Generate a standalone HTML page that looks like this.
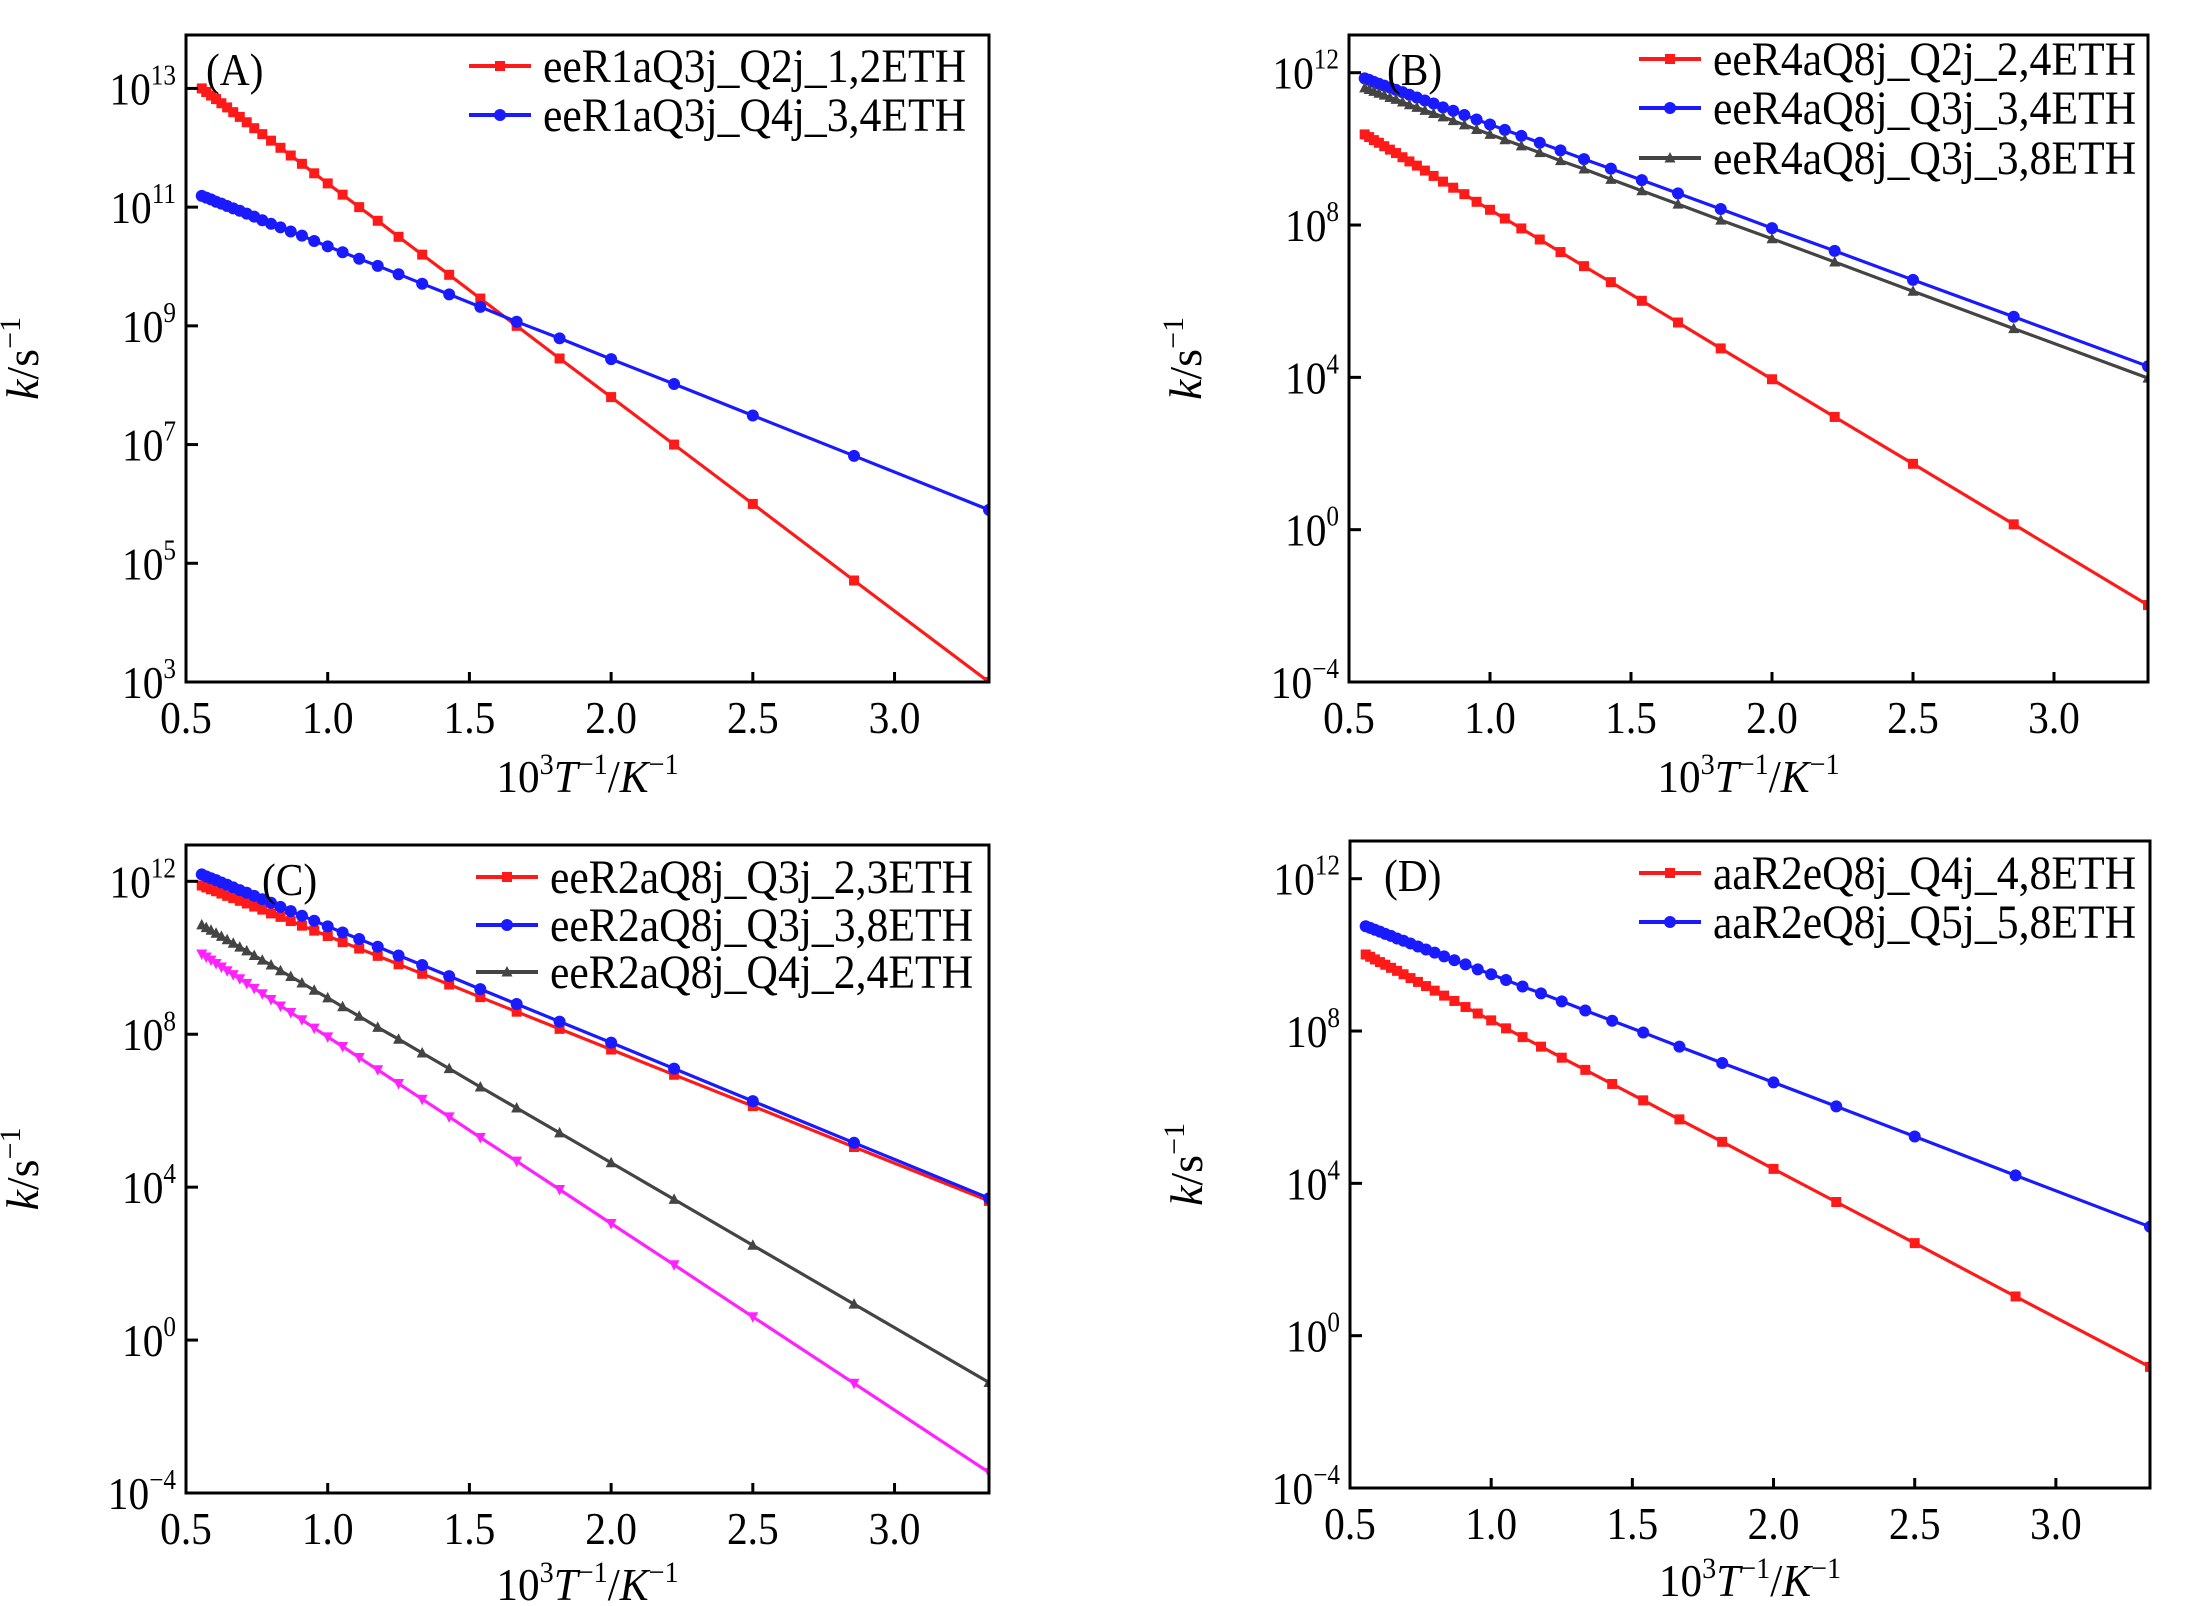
<!DOCTYPE html>
<html><head><meta charset="utf-8"><style>
html,body{margin:0;padding:0;background:#fff;}
svg{display:block;font-family:"Liberation Serif",serif;}
</style></head><body>
<svg id="chart" width="2190" height="1606" viewBox="0 0 2190 1606" xmlns="http://www.w3.org/2000/svg"></svg>
<script>
// Temperatures (K) at which rate constants were sampled
const temps = [1800,1750,1700,1650,1600,1550,1500,1450,1400,1350,1300,1250,1200,1150,1100,1050,1000,950,900,850,800,750,700,650,600,550,500,450,400,350,300];
const xTicks = [0.5,1.0,1.5,2.0,2.5,3.0];
const xTickLabels = ["0.5","1.0","1.5","2.0","2.5","3.0"];
const yTicksA = [3,5,7,9,11,13];
const yTicksBCD = [-4,0,4,8,12];
// log10(k / s^-1) per series
const aRed = [13.00,12.94,12.88,12.82,12.75,12.68,12.60,12.52,12.43,12.33,12.23,12.12,12.00,11.87,11.73,11.57,11.40,11.21,11.00,10.77,10.50,10.20,9.86,9.46,9.00,8.45,7.80,7.00,6.00,4.71,3.00];
const aBlue = [11.19,11.16,11.13,11.09,11.06,11.02,10.98,10.94,10.89,10.84,10.78,10.72,10.66,10.59,10.52,10.43,10.34,10.24,10.13,10.01,9.87,9.71,9.53,9.32,9.07,8.79,8.44,8.02,7.49,6.81,5.90];
const bRed = [10.38,10.31,10.23,10.16,10.07,9.98,9.89,9.78,9.67,9.56,9.43,9.29,9.14,8.98,8.81,8.61,8.40,8.17,7.91,7.62,7.29,6.92,6.50,6.01,5.44,4.76,3.95,2.96,1.73,0.14,-1.98];
const bBlue = [11.85,11.81,11.76,11.71,11.66,11.61,11.55,11.49,11.42,11.35,11.27,11.19,11.09,11.00,10.89,10.77,10.64,10.50,10.34,10.16,9.96,9.73,9.48,9.18,8.83,8.42,7.92,7.32,6.56,5.59,4.29];
const bGray = [11.60,11.56,11.51,11.46,11.41,11.35,11.30,11.23,11.16,11.09,11.01,10.93,10.84,10.74,10.63,10.51,10.38,10.24,10.08,9.90,9.69,9.47,9.20,8.90,8.55,8.13,7.64,7.03,6.26,5.28,3.98];
const cRed = [11.89,11.84,11.79,11.74,11.68,11.62,11.56,11.49,11.42,11.34,11.26,11.16,11.07,10.96,10.84,10.71,10.57,10.41,10.24,10.05,9.83,9.58,9.30,8.97,8.59,8.14,7.60,6.94,6.12,5.05,3.64];
const cBlue = [12.18,12.13,12.08,12.03,11.97,11.91,11.84,11.77,11.70,11.62,11.53,11.44,11.33,11.22,11.10,10.97,10.82,10.66,10.49,10.29,10.06,9.81,9.52,9.18,8.79,8.33,7.78,7.10,6.25,5.16,3.71];
const cGray = [10.86,10.79,10.72,10.64,10.56,10.47,10.38,10.28,10.18,10.06,9.94,9.81,9.66,9.51,9.34,9.15,8.95,8.72,8.47,8.18,7.87,7.51,7.10,6.62,6.07,5.42,4.64,3.68,2.48,0.94,-1.11];
const cMagenta = [10.10,10.02,9.94,9.85,9.76,9.66,9.56,9.45,9.33,9.20,9.06,8.91,8.74,8.57,8.38,8.16,7.93,7.68,7.39,7.07,6.71,6.30,5.84,5.30,4.68,3.94,3.05,1.97,0.61,-1.13,-3.46];
const dRed = [10.01,9.95,9.88,9.81,9.74,9.66,9.58,9.49,9.39,9.29,9.18,9.06,8.93,8.79,8.63,8.46,8.28,8.07,7.84,7.59,7.30,6.98,6.61,6.18,5.68,5.09,4.38,3.51,2.43,1.03,-0.82];
const dBlue = [10.75,10.71,10.66,10.61,10.55,10.50,10.43,10.37,10.30,10.22,10.14,10.06,9.96,9.86,9.75,9.62,9.49,9.34,9.17,8.99,8.78,8.54,8.27,7.96,7.59,7.16,6.65,6.02,5.23,4.21,2.86];

const NS = "http://www.w3.org/2000/svg";
const svg = document.getElementById("chart");
function mk(tag, attrs, parent){const e=document.createElementNS(NS,tag);for(const k in attrs)e.setAttribute(k,attrs[k]);(parent||svg).appendChild(e);return e;}
function stext(parent,x,y,size,sx,anchor){return mk("text",{x:0,y:0,"font-size":size,"text-anchor":anchor||"start",fill:"#000",transform:`translate(${x} ${y}) scale(${sx} 1)`},parent);}
const COL = {red:"#ff1a1a", blue:"#1a1aff", gray:"#444444", magenta:"#ff22ff"};

const panels = [
 {id:"a", label:"(A)", labX:20, L:186,R:989,T:35,B:682, ymin:3, ymax:13.9, yt:yTicksA, xlabY:792,
  legX:469, legRows:[66,115],
  series:[{name:"eeR1aQ3j_Q2j_1,2ETH",d:aRed,c:COL.red,m:"square"},{name:"eeR1aQ3j_Q4j_3,4ETH",d:aBlue,c:COL.blue,m:"circle"}]},
 {id:"b", label:"(B)", labX:38, L:1349,R:2148,T:35,B:682, ymin:-4, ymax:12.99, yt:yTicksBCD, xlabY:792,
  legX:1639, legRows:[59,108,158],
  series:[{name:"eeR4aQ8j_Q2j_2,4ETH",d:bRed,c:COL.red,m:"square"},{name:"eeR4aQ8j_Q3j_3,4ETH",d:bBlue,c:COL.blue,m:"circle"},{name:"eeR4aQ8j_Q3j_3,8ETH",d:bGray,c:COL.gray,m:"tri"}]},
 {id:"c", label:"(C)", labX:76, L:186,R:989,T:845,B:1493, ymin:-4, ymax:12.95, yt:yTicksBCD, xlabY:1600,
  legX:476, legRows:[877,925,972],
  series:[{name:"eeR2aQ8j_Q3j_2,3ETH",d:cRed,c:COL.red,m:"square"},{name:"eeR2aQ8j_Q3j_3,8ETH",d:cBlue,c:COL.blue,m:"circle"},{name:"eeR2aQ8j_Q4j_2,4ETH",d:cGray,c:COL.gray,m:"tri"},{name:null,d:cMagenta,c:COL.magenta,m:"dtri"}]},
 {id:"d", label:"(D)", labX:34, L:1350,R:2150,T:841,B:1488, ymin:-4, ymax:12.99, yt:yTicksBCD, xlabY:1596,
  legX:1639, legRows:[873,922],
  series:[{name:"aaR2eQ8j_Q4j_4,8ETH",d:dRed,c:COL.red,m:"square"},{name:"aaR2eQ8j_Q5j_5,8ETH",d:dBlue,c:COL.blue,m:"circle"}]}
];

function marker(g, type, x, y, c){
  let e;
  if(type==="square") e=mk("rect",{x:x-5,y:y-5,width:10,height:10,fill:c},g);
  else if(type==="circle") e=mk("circle",{cx:x,cy:y,r:6,fill:c},g);
  else if(type==="tri") e=mk("polygon",{points:`${x},${y-6} ${x-5.5},${y+4.5} ${x+5.5},${y+4.5}`,fill:c},g);
  else e=mk("polygon",{points:`${x},${y+6} ${x-5.5},${y-4.5} ${x+5.5},${y-4.5}`,fill:c},g);
  return e;
}

panels.forEach(p=>{
  const xmin=0.5, xmax=1000/300;
  const sx=v=>p.L+(v-xmin)/(xmax-xmin)*(p.R-p.L);
  const sy=v=>p.B-(v-p.ymin)/(p.ymax-p.ymin)*(p.B-p.T);
  const g=mk("g",{});
  
  
  const clipId="clip"+p.id;
  const cp=mk("clipPath",{id:clipId},g); mk("rect",{x:p.L,y:p.T,width:p.R-p.L,height:p.B-p.T},cp);
  const sg=mk("g",{"clip-path":`url(#${clipId})`},g);
  p.series.forEach((s,si)=>{
    const pts=s.d.map((v,i)=>`${sx(1000/temps[i]).toFixed(1)},${sy(v).toFixed(1)}`).join(" ");
    const line=mk("polyline",{points:pts,fill:"none",stroke:s.c,"stroke-width":3.2},sg);
    
    
    s.d.forEach((v,i)=>{
      const m=marker(sg,s.m,sx(1000/temps[i]),sy(v),s.c);
      
      
    });
  });
  const fr=mk("rect",{x:p.L,y:p.T,width:p.R-p.L,height:p.B-p.T,fill:"none",stroke:"#000","stroke-width":3},g);
  
  
  xTicks.forEach((t,i)=>{
    const x=sx(t);
    mk("line",{x1:x,y1:p.B,x2:x,y2:p.B-10,stroke:"#000","stroke-width":3},g);
    const tx=stext(g,x,p.B+51,46,0.9,"middle");
    tx.textContent=xTickLabels[i];
    
    
  });
  p.yt.forEach(t=>{
    const y=sy(t);
    mk("line",{x1:p.L,y1:y,x2:p.L+12,y2:y,stroke:"#000","stroke-width":3},g);
    const tx=stext(g,p.L-10,y+16,46,0.9,"end");
    
    
    const a=mk("tspan",{},tx); a.textContent="10";
    const b=mk("tspan",{dy:-20,"font-size":28},tx); b.textContent=String(t).replace("-","−");
  });
  const xt=stext(g,(p.L+p.R)/2,p.xlabY,46,0.94,"middle");
  
  
  xt.innerHTML='10<tspan dy="-18" font-size="30">3</tspan><tspan dy="18" font-style="italic">T</tspan><tspan dy="-18" font-size="30">−1</tspan><tspan dy="18">/</tspan><tspan font-style="italic">K</tspan><tspan dy="-18" font-size="30">−1</tspan>';
  const yx=p.L-148, yy=(p.T+p.B)/2;
  const yt=mk("text",{x:yx,y:yy,"font-size":46,"text-anchor":"middle",fill:"#000",transform:`rotate(-90 ${yx} ${yy})`},g);
  
  
  yt.innerHTML='<tspan font-style="italic">k</tspan>/s<tspan dy="-18" font-size="30">−1</tspan>';
  const pl=stext(g,p.L+p.labX,p.T+50,46,0.9);
  pl.textContent=p.label;
  
  
  p.series.forEach((s,si)=>{
    if(!s.name) return;
    const y=p.legRows[si];
    const lg=mk("g",{},g);
    
    
    mk("line",{x1:p.legX,y1:y,x2:p.legX+62,y2:y,stroke:s.c,"stroke-width":4},lg);
    marker(lg,s.m,p.legX+31,y,s.c);
    const t=stext(lg,p.legX+74,y+16,48,0.91);
    t.textContent=s.name;
  });
});
</script>
</body></html>
